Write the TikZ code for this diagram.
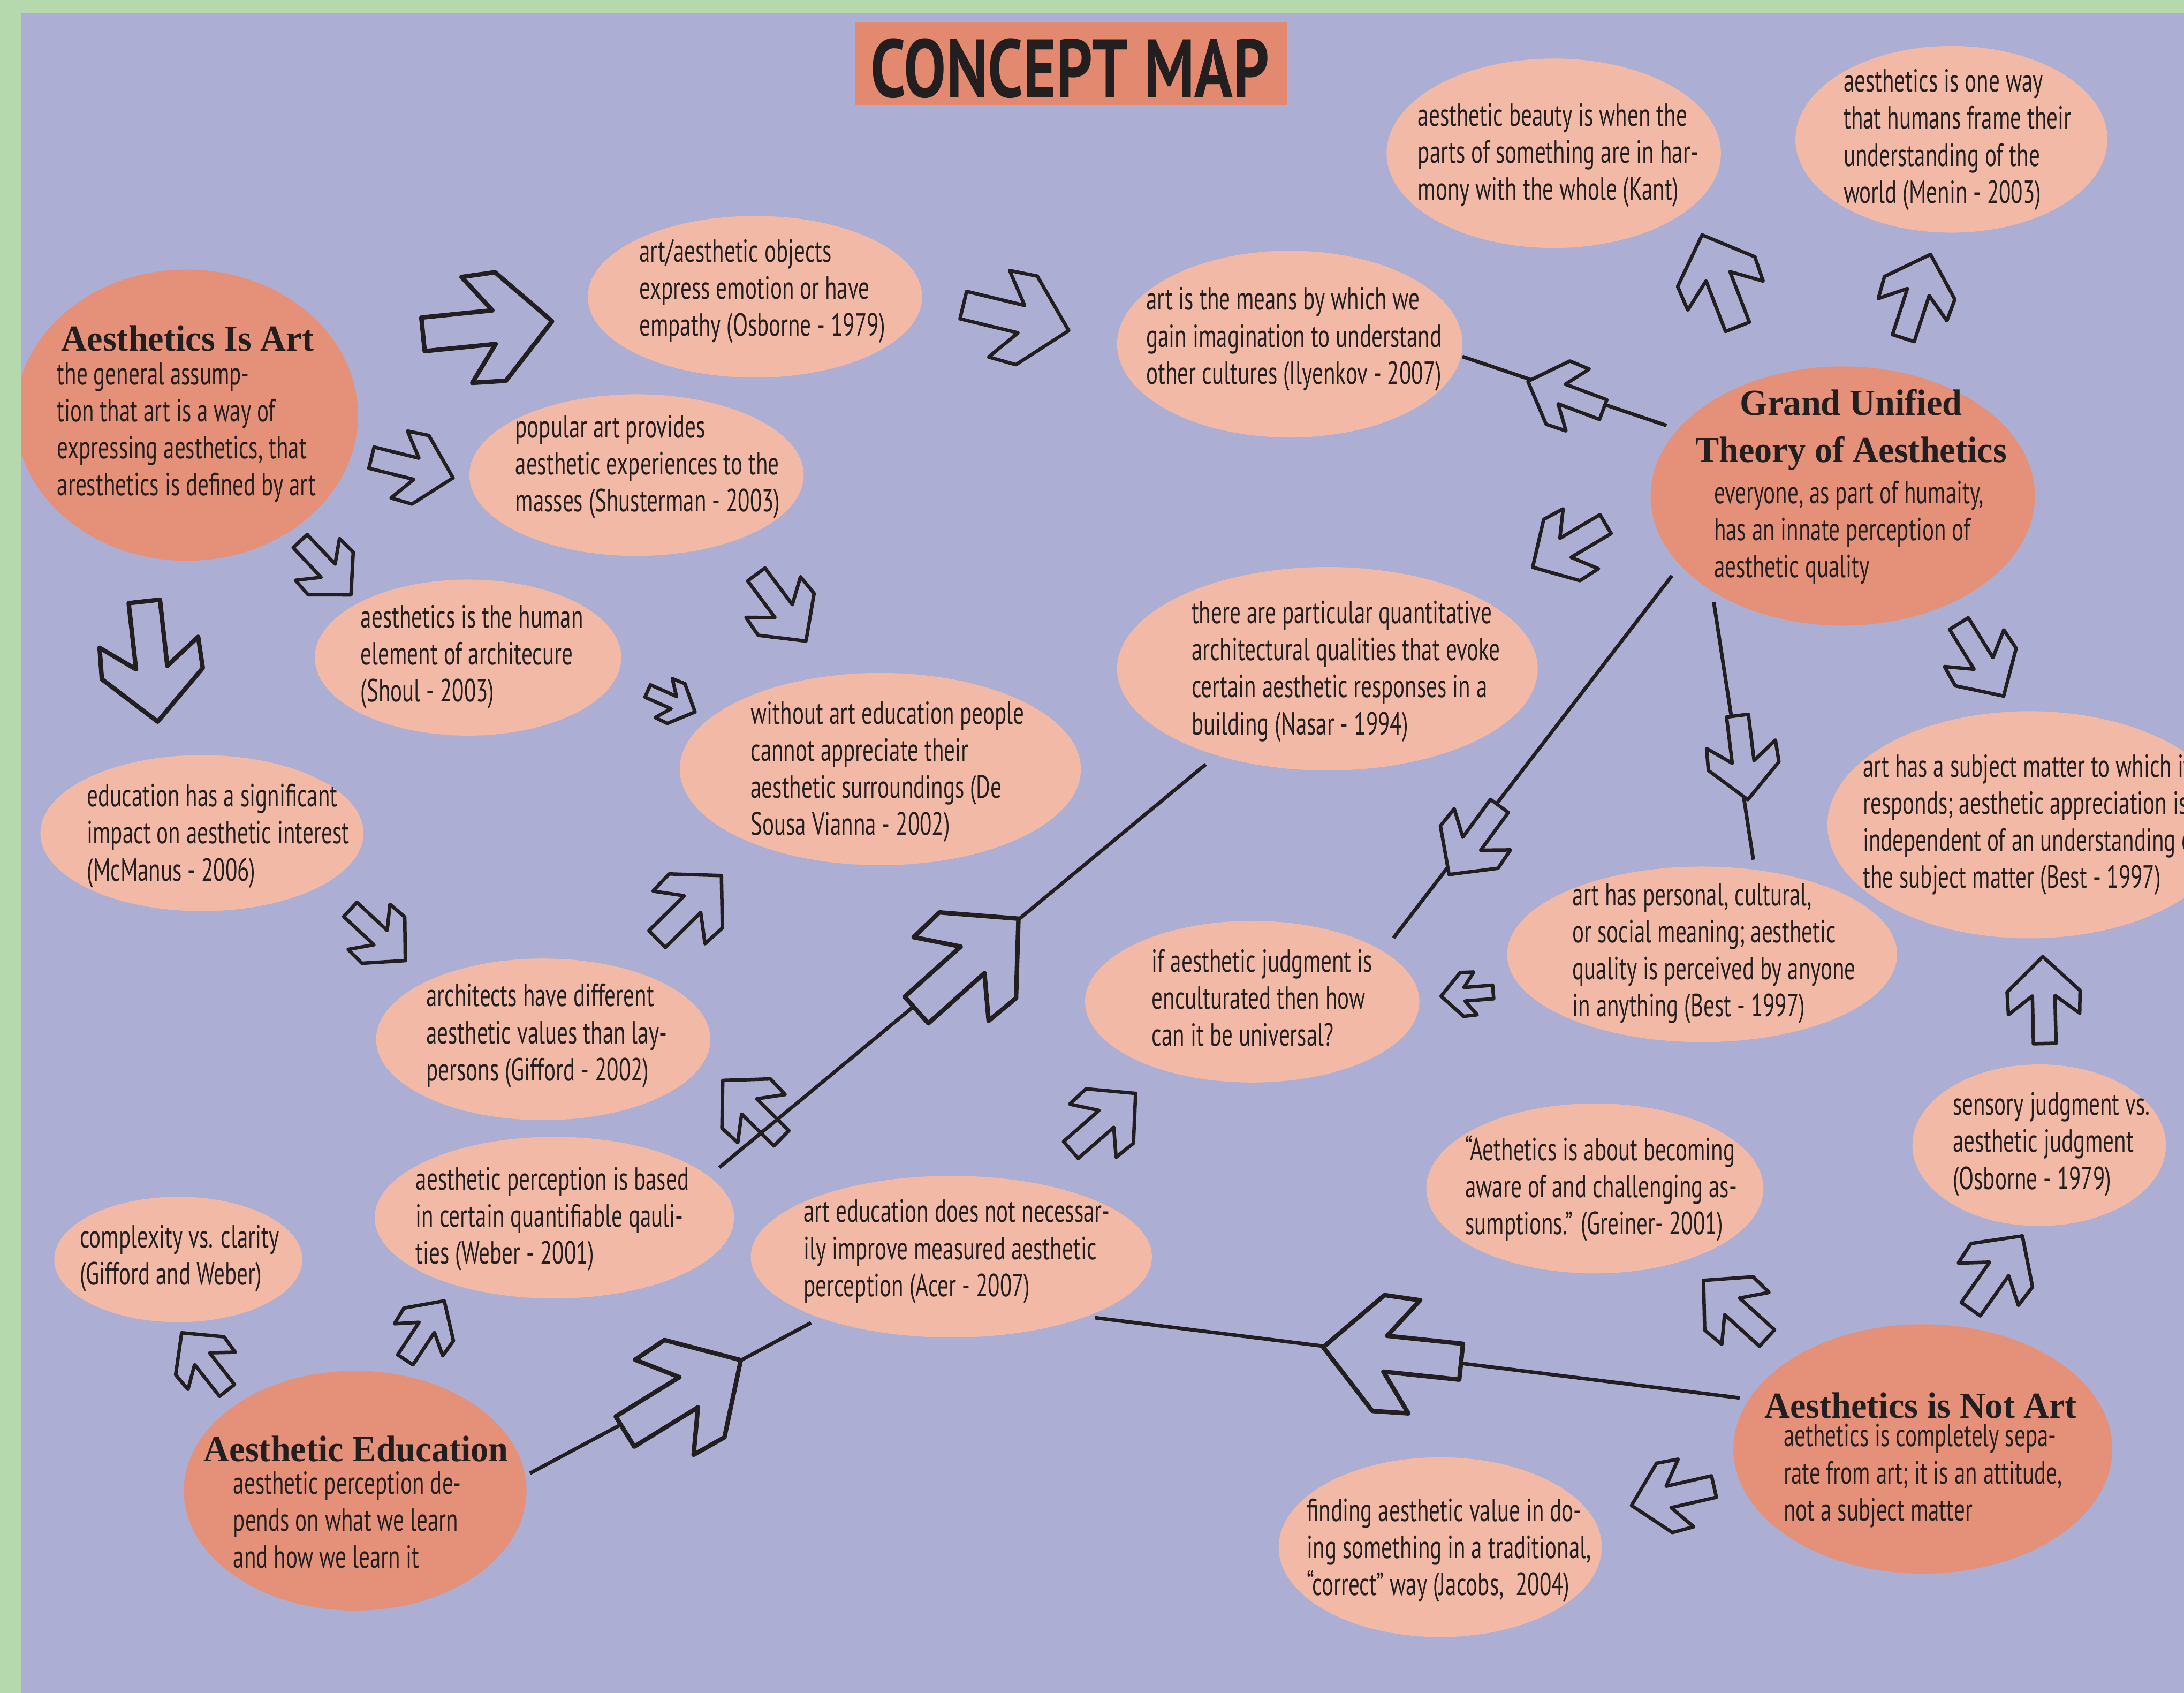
\documentclass[tikz,border=0pt]{standalone}
\usepackage{fontspec}
\setmainfont{PT Sans}[FakeStretch=0.686]
\newfontfamily\serifttl{Liberation Serif}[FakeStretch=0.965]
\newfontfamily\headfont{PT Sans}[FakeStretch=0.77]
\usetikzlibrary{shapes.geometric}
\definecolor{bgcol}{HTML}{ADAED3}
\definecolor{grn}{HTML}{B5D8AC}
\definecolor{darkell}{HTML}{E59179}
\definecolor{lightell}{HTML}{F1B9A6}
\definecolor{ttlbox}{HTML}{E38970}
\definecolor{ink}{HTML}{231F20}
\newcommand\lns[1]{\begin{tabular}[t]{@{}l@{}}#1\end{tabular}}
\newcommand\clns[1]{\begin{tabular}[t]{@{}c@{}}#1\end{tabular}}
\newcommand\harrow[5][]{%
  \pgfmathsetmacro\hA{atan2(-(#5-#3),#4-#2)}%
  \pgfmathsetmacro\hL{veclen(#4-#2,#5-#3)}%
  \draw[blk,#1,shift={(#2,#3)},rotate=\hA,scale=\hL]
    (0,0.13) -- (0.55,0.13) -- (0.34,0.41) -- (0.6,0.42) -- (1,0)
    -- (0.6,-0.42) -- (0.34,-0.41) -- (0.55,-0.13) -- (0,-0.13) -- cycle;}
\tikzset{
  ell/.style={ellipse, inner sep=0pt, outer sep=0pt},
  lt/.style={ell, fill=lightell},
  dk/.style={ell, fill=darkell},
  txt/.style={inner sep=0pt, outer sep=0pt, anchor=base west, text=ink,
    font=\fontsize{23}{26.6}\selectfont},
  ttl/.style={inner sep=0pt, outer sep=0pt, anchor=base, text=ink,
    font=\serifttl\bfseries\fontsize{26.4}{33.8}\selectfont},
  conn/.style={draw=ink, line width=2.6pt},
  blk/.style={draw=ink, line width=2.5pt, fill=bgcol, line join=round},
  big/.style={line width=3.2pt},
}
\begin{document}
\begin{tikzpicture}[x=1pt,y=-1pt]
\useasboundingbox (0,0) rectangle (1568,1215);
\clip (0,0) rectangle (1568,1215);
\fill[bgcol] (0,0) rectangle (1568,1215);

% title
\fill[ttlbox] (613.6,15.6) rectangle (924.4,75.5);
\node[inner sep=0pt, anchor=base, text=ink, font=\headfont\bfseries\fontsize{59}{60}\selectfont] (title) at (768.2,69.6) {CONCEPT MAP};

% main ellipses
\node[dk, minimum width=246pt, minimum height=209pt] (aia) at (134,298) {};
\node[dk, minimum width=276pt, minimum height=186pt] (gut) at (1323,356) {};
\node[dk, minimum width=246pt, minimum height=172pt] (ae) at (255,1070) {};
\node[dk, minimum width=272pt, minimum height=179pt] (ana) at (1380.5,1040) {};

% light ellipses
\node[lt, minimum width=240pt, minimum height=116pt] (e1) at (542,213) {};
\node[lt, minimum width=240pt, minimum height=116pt] (e2) at (457,341) {};
\node[lt, minimum width=220pt, minimum height=112pt] (e3) at (336,472) {};
\node[lt, minimum width=232pt, minimum height=112pt] (e4) at (145,598) {};
\node[lt, minimum width=240pt, minimum height=116pt] (e5) at (390,746) {};
\node[lt, minimum width=288pt, minimum height=138pt] (e6) at (632,552) {};
\node[lt, minimum width=302pt, minimum height=146pt] (e7) at (953,480) {};
\node[lt, minimum width=240pt, minimum height=116pt] (e8) at (899,719) {};
\node[lt, minimum width=248pt, minimum height=134pt] (e9) at (926,247) {};
\node[lt, minimum width=240pt, minimum height=136pt] (e10) at (1115.5,110) {};
\node[lt, minimum width=224pt, minimum height=134pt] (e11) at (1401,100) {};
\node[lt, minimum width=290pt, minimum height=163pt] (e12) at (1457,592) {};
\node[lt, minimum width=280pt, minimum height=126pt] (e13) at (1222,685) {};
\node[lt, minimum width=182pt, minimum height=116pt] (e14) at (1464,822) {};
\node[lt, minimum width=242pt, minimum height=122pt] (e15) at (1145,853) {};
\node[lt, minimum width=232pt, minimum height=129pt] (e16) at (1034,1110.5) {};
\node[lt, minimum width=288pt, minimum height=116pt] (e17) at (683,902) {};
\node[lt, minimum width=258pt, minimum height=116pt] (e18) at (398,874) {};
\node[lt, minimum width=178pt, minimum height=90pt] (e19) at (128,904) {};

% connectors
\draw[conn, shorten <=3.9pt, shorten >=7.5pt] (ae.5) -- (e17.205);
\draw[conn, shorten <=6.9pt, shorten >=6.7pt] (ana.164) -- (e17.336);
\draw[conn, shorten <=8.6pt, shorten >=1pt] (gut.158) -- (e9.356);
\draw[conn, shorten <=9.7pt, shorten >=12.2pt] (gut.203) -- (e8.21);
\draw[conn, shorten <=8pt, shorten >=7.4pt] (gut.216) -- (e13.58);
\draw[conn, shorten <=9.8pt, shorten >=10.3pt] (e18.15) -- (e7.218);

% block arrows
\harrow[big]{303.7}{240}{396.4}{230.6}
\harrow{691.6}{219}{767.3}{237.3}
\harrow{266.7}{328.5}{325.3}{343}
\harrow{215.5}{388.4}{252}{427}
\harrow[big]{103.6}{431.7}{113.2}{518}
\harrow{465}{496}{499}{511}
\harrow{543}{412.3}{578.7}{460.2}
\harrow{251.5}{652.8}{291}{689.5}
\harrow{471.8}{674}{518}{628.4}
\harrow{768.8}{825.4}{815.3}{784.8}
\harrow[fill=none]{561}{817}{518.8}{775.4}
\harrow[big]{658}{725}{731.3}{659.3}
\harrow[big]{448.7}{1027.5}{531.9}{976.2}
\harrow[big]{1049}{977.4}{950}{967}
\harrow{1268.6}{960.4}{1223}{919}
\harrow{1414.9}{939.7}{1452}{887}
\harrow{1230.5}{1067}{1171.3}{1080.6}
\harrow{163}{998}{130.4}{956.6}
\harrow{291}{976}{319}{933.7}
\harrow{1468}{749}{1466.6}{686.6}
\harrow{1406.4}{447.6}{1438.5}{499.6}
\harrow{1247.4}{513.7}{1254.8}{574}
\harrow{1076.5}{578.5}{1040.3}{627.8}
\harrow{1152.7}{376.2}{1100.3}{407.2}
\harrow{1151}{294}{1096.9}{273.7}
\harrow{1247.4}{234.6}{1222}{168.6}
\harrow{1366.5}{242.7}{1386}{182.6}
\harrow{1072}{712}{1034.6}{715}

% titles of main ellipses
\node[ttl] (aia-t) at (134.7,252) {Aesthetics Is Art};
\node[ttl] (gut-t) at (1329,298) {\clns{Grand Unified\\Theory of Aesthetics}};
\node[ttl] (ae-t) at (255.7,1049) {Aesthetic Education};
\node[ttl] (ana-t) at (1379,1017.8) {Aesthetics is Not Art};

% bodies of main ellipses
\node[txt] (aia-b) at (41,276) {\lns{the general assump-\\tion that art is a way of\\expressing aesthetics, that\\aresthetics is defined by art}};
\node[txt] (gut-b) at (1230.6,361.4) {\lns{everyone, as part of humaity,\\has an innate perception of\\aesthetic quality}};
\node[txt] (ae-b) at (167.5,1072.4) {\lns{aesthetic perception de-\\pends on what we learn\\and how we learn it}};
\node[txt] (ana-b) at (1280.6,1038.4) {\lns{aethetics is completely sepa-\\rate from art; it is an attitude,\\not a subject matter}};

% texts of light ellipses
\node[txt] (t1) at (459,188) {\lns{art/aesthetic objects\\express emotion or have\\empathy (Osborne - 1979)}};
\node[txt] (t2) at (370,314) {\lns{popular art provides\\aesthetic experiences to the\\masses (Shusterman - 2003)}};
\node[txt] (t3) at (259,450.5) {\lns{aesthetics is the human\\element of architecure\\(Shoul - 2003)}};
\node[txt] (t4) at (62.5,579) {\lns{education has a significant\\impact on aesthetic interest\\(McManus - 2006)}};
\node[txt] (t5) at (306,722.5) {\lns{architects have different\\aesthetic values than lay-\\persons (Gifford - 2002)}};
\node[txt] (t6) at (539,519.6) {\lns{without art education people\\cannot appreciate their\\aesthetic surroundings (De\\Sousa Vianna - 2002)}};
\node[txt] (t7) at (855.5,447.5) {\lns{there are particular quantitative\\architectural qualities that evoke\\certain aesthetic responses in a\\building (Nasar - 1994)}};
\node[txt] (t8) at (827,697.6) {\lns{if aesthetic judgment is\\enculturated then how\\can it be universal?}};
\node[txt] (t9) at (823,222.5) {\lns{art is the means by which we\\gain imagination to understand\\other cultures (Ilyenkov - 2007)}};
\node[txt] (t10) at (1018,90.4) {\lns{aesthetic beauty is when the\\parts of something are in har-\\mony with the whole (Kant)}};
\node[txt] (t11) at (1323.6,66) {\lns{aesthetics is one way\\that humans frame their\\understanding of the\\world (Menin - 2003)}};
\node[txt] (t12) at (1337.5,557.7) {\lns{art has a subject matter to which it\\responds; aesthetic appreciation is\\independent of an understanding of\\the subject matter (Best - 1997)}};
\node[txt] (t13) at (1129,650) {\lns{art has personal, cultural,\\or social meaning; aesthetic\\quality is perceived by anyone\\in anything (Best - 1997)}};
\node[txt] (t14) at (1402,800.4) {\lns{sensory judgment vs.\\aesthetic judgment\\(Osborne - 1979)}};
\node[txt] (t15) at (1052,833) {\lns{“Aethetics is about becoming\\aware of and challenging as-\\sumptions.” (Greiner- 2001)}};
\node[txt] (t16) at (938.4,1092) {\lns{finding aesthetic value in do-\\ing something in a traditional,\\“correct” way (Jacobs,~~2004)}};
\node[txt] (t17) at (577,877.3) {\lns{art education does not necessar-\\ily improve measured aesthetic\\perception (Acer - 2007)}};
\node[txt] (t18) at (298.6,854) {\lns{aesthetic perception is based\\in certain quantifiable qauli-\\ties (Weber - 2001)}};
\node[txt] (t19) at (57.3,895.5) {\lns{complexity vs. clarity\\(Gifford and Weber)}};

% frame strips
\fill[grn] (0,0) rectangle (1568,9.6);
\fill[grn] (0,0) rectangle (15.4,1215);
\end{tikzpicture}
\end{document}
